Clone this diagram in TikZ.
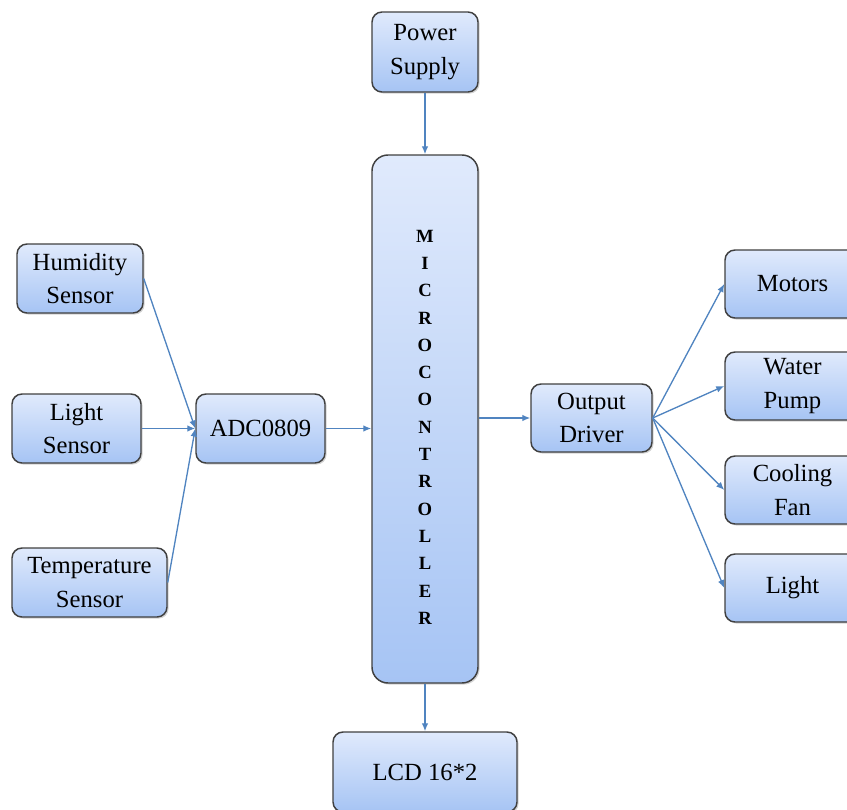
\documentclass[tikz,border=0pt]{standalone}
\usepackage{fontspec}
\setmainfont{Liberation Serif}
\usetikzlibrary{shadings,shadows,arrows.meta}
\definecolor{boxtop}{RGB}{224,234,252}
\definecolor{boxbot}{RGB}{166,196,244}
\definecolor{boxline}{RGB}{64,64,64}
\definecolor{wire}{RGB}{80,132,192}

\begin{document}
\begin{tikzpicture}[x=0.75pt,y=0.75pt,yscale=-1,xscale=1,
  blockbox/.style={draw=boxline,line width=1.1pt,rounded corners=7.5pt,
    top color=boxtop,bottom color=boxbot,align=center,inner sep=0pt,
    font=\fontsize{18.5}{25}\selectfont,
    drop shadow={shadow xshift=1.2pt,shadow yshift=-1.2pt,opacity=0.35}},
  wirearrow/.style={draw=wire,line width=1pt,-{Latex[length=6pt,width=5pt]}},
  letter/.style={font=\fontsize{14}{14}\selectfont\bfseries,inner sep=0pt}]
%set diagram size to the reference
\useasboundingbox (0,0) rectangle (847,810);

%Shape: Power Supply
\node [blockbox,minimum width=79.5pt,minimum height=60pt] (power) at (425,52) {Power\\Supply};
%Shape: Microcontroller
\node [blockbox,rounded corners=12pt,minimum width=79.5pt,minimum height=396pt] (mcu) at (425,419) {};
\foreach \l [count=\i] in {M,I,C,R,O,C,O,N,T,R,O,L,L,E,R}
  \node [letter] (l\i) at (425,{236+(\i-1)*27.3}) {\l};

%Shape: sensors
\node [blockbox,minimum width=94.5pt,minimum height=51.75pt] (humid) at (80,278.5) {Humidity\\Sensor};
\node [blockbox,minimum width=96.75pt,minimum height=51.75pt] (light) at (76.5,428.5) {Light\\Sensor};
\node [blockbox,minimum width=116.25pt,minimum height=51.75pt] (temp) at (89.5,582.5) {Temperature\\Sensor};
\node [blockbox,minimum width=96.75pt,minimum height=51.75pt] (adc) at (260.5,428.5) {ADC0809};

%Shape: outputs
\node [blockbox,minimum width=90.75pt,minimum height=51pt] (driver) at (591.5,418) {Output\\Driver};
\node [blockbox,minimum width=101.25pt,minimum height=51pt] (motor) at (792.5,284) {Motors};
\node [blockbox,minimum width=101.25pt,minimum height=51pt] (pump) at (792.5,386) {Water\\Pump};
\node [blockbox,minimum width=101.25pt,minimum height=51pt] (fan) at (792.5,490) {Cooling\\Fan};
\node [blockbox,minimum width=101.25pt,minimum height=51pt] (lamp) at (792.5,588) {Light};
\node [blockbox,minimum width=138pt,minimum height=60pt] (lcd) at (425,772) {LCD 16*2};

%Straight Lines
\draw [wirearrow] (power) -- (mcu);
\draw [wirearrow] (mcu) -- (lcd);
\draw [wirearrow] (humid.east) -- (adc.west);
\draw [wirearrow] (light) -- (adc);
\draw [wirearrow] (temp.east) -- (adc.west);
\draw [wirearrow] (adc.east) -- (adc.east -| mcu.west);
\draw [wirearrow] (mcu.east |- driver.west) -- (driver.west);
\foreach \t in {motor,pump,fan,lamp}
  \draw [wirearrow] (driver.east) -- (\t.west);

\end{tikzpicture}
\end{document}
